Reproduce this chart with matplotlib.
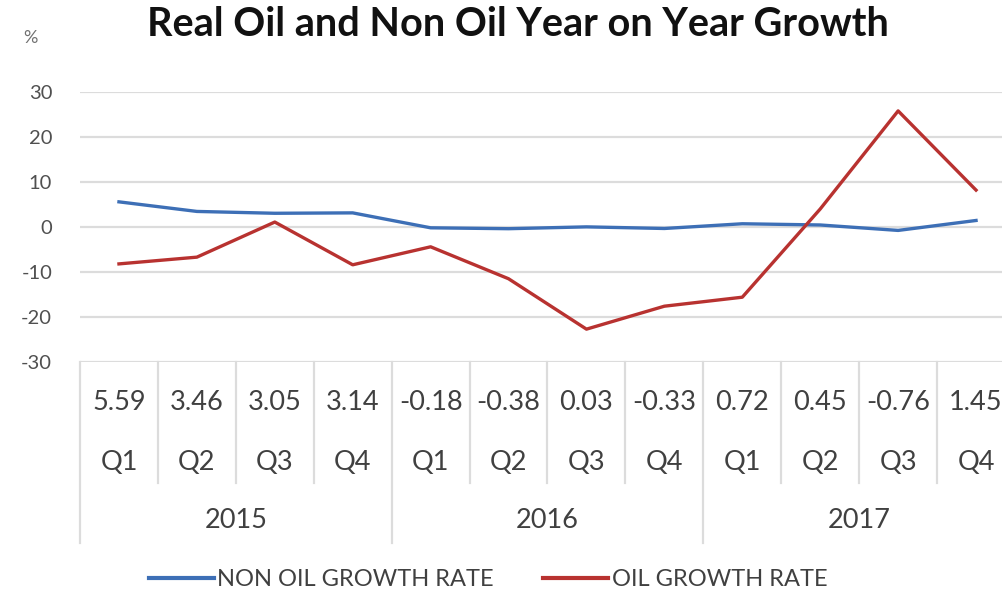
import matplotlib.pyplot as plt
from matplotlib import transforms
from matplotlib.lines import Line2D

plt.rcParams['font.family'] = ['Lato', 'DejaVu Sans']

# Data
quarters = ['Q1', 'Q2', 'Q3', 'Q4'] * 3
years = ['2015', '2016', '2017']
non_oil = [5.59, 3.46, 3.05, 3.14, -0.18, -0.38, 0.03, -0.33, 0.72, 0.45, -0.76, 1.45]
oil = [-8.2, -6.7, 1.1, -8.4, -4.4, -11.5, -22.7, -17.6, -15.6, 4.0, 25.8, 8.2]

W, H = 1003, 593
blue = '#3d6fb6'
red = '#b83230'
txt = '#404040'
grid = '#dcdcdc'

fig = plt.figure(figsize=(W / 100, H / 100), dpi=100)
# plot area in pixels: x 80..1015 (cut at the right edge), y 92..362
ax = fig.add_axes([80 / W, 1 - 362 / H, 935 / W, 270 / H])

x = list(range(len(non_oil)))
ax.plot(x, non_oil, color=blue, lw=2.4, solid_joinstyle='round', zorder=3)
ax.plot(x, oil, color=red, lw=2.4, solid_joinstyle='round', zorder=3)

ax.set_xlim(-0.5, 11.5)
ax.set_ylim(-30, 30)
ax.set_yticks(range(-30, 31, 10))
ax.set_yticklabels([str(v) for v in range(-30, 31, 10)], color='#505050', fontsize=14.5)
ax.tick_params(axis='y', length=0, pad=20)
ax.set_xticks([])
for s in ax.spines.values():
    s.set_visible(False)
ax.grid(axis='y', color=grid, lw=1.6)
ax.set_axisbelow(True)

fig.text(518 / W, 1 - 24 / H, 'Real Oil and Non Oil Year on Year Growth',
         ha='center', va='center', fontsize=28.5, fontweight='bold', color='#111111')
fig.text(30 / W, 1 - 38 / H, '%', ha='center', va='center', fontsize=13, color='#707070')

# data table / category axis below the plot
tr = transforms.blended_transform_factory(ax.transData, fig.transFigure)
def fy(py):
    return 1 - py / H

for i in range(len(non_oil)):
    ax.text(i, fy(403), f'{non_oil[i]:.2f}', transform=tr, ha='center', va='center',
            fontsize=19.5, color=txt)
    ax.text(i, fy(462), quarters[i], transform=tr, ha='center', va='center',
            fontsize=19.5, color=txt)
for k, yr in enumerate(years):
    ax.text(4 * k + 1.5, fy(520), yr, transform=tr, ha='center', va='center',
            fontsize=19.5, color=txt)

for i in range(13):
    xb = i - 0.5
    bottom = 543 if i % 4 == 0 else 483
    ax.add_line(Line2D([xb, xb], [fy(362), fy(bottom)], transform=tr,
                       color=grid, lw=1.6, clip_on=False))

handles = [Line2D([], [], color=blue, lw=3), Line2D([], [], color=red, lw=3)]
fig.legend(handles, ['NON OIL GROWTH RATE', 'OIL GROWTH RATE'], loc='center',
           bbox_to_anchor=(488 / W, fy(580)), ncol=2, frameon=False, fontsize=17,
           handlelength=2.75, handletextpad=0.15, columnspacing=2.1,
           labelcolor=txt)

fig.savefig('out.png', dpi=100)
